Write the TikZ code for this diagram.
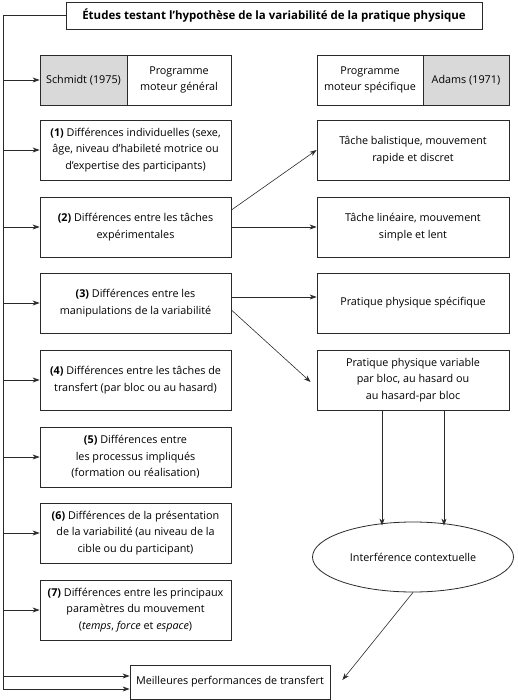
\documentclass[tikz,border=0pt]{standalone}
\usepackage{fontspec}
\setmainfont{Open Sans}
\usetikzlibrary{arrows.meta,shapes.geometric,calc}
\definecolor{ln}{HTML}{2A2A2A}
\definecolor{gr}{HTML}{D9D9D9}
\tikzset{
  box/.style={draw=ln,line width=0.8pt,align=center,inner sep=2pt,font=\fontsize{10.8}{16.5}\selectfont,text=black},
  lbox/.style={box,minimum width=191pt,minimum height=60pt},
  rbox/.style={box,minimum width=192pt,minimum height=60pt},
  arr/.style={draw=ln,line width=0.6pt,-{Stealth[length=7pt,width=5pt]}},
  ln/.style={draw=ln,line width=0.6pt}
}
\begin{document}
\begin{tikzpicture}[x=1pt,y=-1pt]
\useasboundingbox (0,0) rectangle (517,700);
% title
\node[box,minimum width=416pt,minimum height=27pt,font=\fontsize{11.5}{14}\selectfont\bfseries] (title) at (274,15.5) {Études testant l’hypothèse de la variabilité de la pratique physique};
% Schmidt / Adams
\node[box,fill=gr,minimum width=87pt,minimum height=50pt] (schmidt) at (83.5,80) {Schmidt (1975)};
\node[box,minimum width=104pt,minimum height=50pt] (pmg) at (179,80) {Programme\\moteur général};
\node[box,minimum width=106pt,minimum height=50pt] (pms) at (370,80) {Programme\\moteur spécifique};
\node[box,fill=gr,minimum width=86pt,minimum height=50pt] (adams) at (466,80) {Adams (1971)};
% left boxes
\node[lbox] (b1) at (135.5,150) {\textbf{(1)} Différences individuelles (sexe,\\âge, niveau d’habileté motrice ou\\d’expertise des participants)};
\node[lbox] (b2) at (135.5,227) {\textbf{(2)} Différences entre les tâches\\expérimentales};
\node[lbox] (b3) at (135.5,303) {\textbf{(3)} Différences entre les\\manipulations de la variabilité};
\node[lbox] (b4) at (135.5,380) {\textbf{(4)} Différences entre les tâches de\\transfert (par bloc ou au hasard)};
\node[lbox] (b5) at (135.5,457) {\textbf{(5)} Différences entre\\les processus impliqués\\(formation ou réalisation)};
\node[lbox] (b6) at (135.5,533) {\textbf{(6)} Différences de la présentation\\de la variabilité (au niveau de la\\cible ou du participant)};
\node[lbox] (b7) at (135.5,610) {\textbf{(7)} Différences entre les principaux\\paramètres du mouvement\\(\textit{temps}, \textit{force} et \textit{espace})};
% right boxes
\node[rbox] (r1) at (413,150) {Tâche balistique, mouvement\\rapide et discret};
\node[rbox] (r2) at (413,227) {Tâche linéaire, mouvement\\simple et lent};
\node[rbox] (r3) at (413,303) {Pratique physique spécifique};
\node[rbox] (r4) at (413,380) {Pratique physique variable\\par bloc, au hasard ou\\au hasard-par bloc};
% ellipse
\node[box,ellipse,minimum width=201pt,minimum height=70pt] (ic) at (413,557) {Interférence contextuelle};
% final
\node[box,minimum width=200pt,minimum height=34pt] (fin) at (230,682) {Meilleures performances de transfert};
% spine
\coordinate (top) at (3,15.5);
\coordinate (fa) at (3,676);
\coordinate (fb) at (3,689);
\draw[ln] (title.west) -- (top) -- (fb);
\foreach \n in {schmidt,b1,b2,b3,b4,b5,b6,b7}{
  \draw[arr] (top |- \n.west) -- (\n.west);
}
\draw[arr] (fa) -- (fin.west |- fa);
\draw[arr] (fb) -- (fin.west |- fb);
% middle arrows
\draw[arr] ($(b2.east)+(0,-17)$) -- (r1.west);
\draw[arr] (b2.east) -- (r2.west);
\draw[arr] ($(b3.east)+(0,-6)$) -- ($(r3.west)+(0,-6)$);
\draw[arr] ($(b3.east)+(0,7)$) -- ($(r4.west)+(-6,2)$);
% r4 -> ellipse
\draw[arr] ($(r4.south)+(-31,0)$) -- ($(ic.north)+(-31,4)$);
\draw[arr] ($(r4.south)+(31,0)$) -- ($(ic.north)+(31,4)$);
% ellipse -> final
\draw[arr] (ic.south) -- ($(fin.east)+(12,-2)$);
\end{tikzpicture}
\end{document}
